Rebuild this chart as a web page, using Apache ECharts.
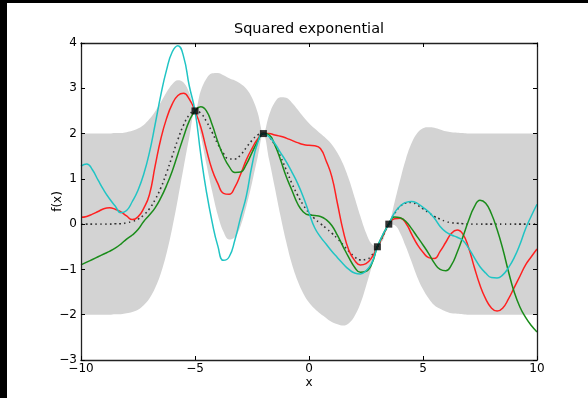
<!DOCTYPE html>
<html>
<head>
<meta charset="utf-8">
<script src="https://cdn.jsdelivr.net/npm/echarts@6/dist/echarts.min.js"></script>
<style>
  html, body { margin: 0; padding: 0; background: #ffffff; }
  #chart { position: absolute; left: 0; top: 0; width: 588px; height: 398px; }
  .edge { position: absolute; background: #000000; }
</style>
</head>
<body>
<div id="chart"></div>
<div class="edge" style="left:0;top:0;width:588px;height:3px;"></div>
<div class="edge" style="left:0;top:0;width:7px;height:398px;"></div>
<script>
// Sample positions along x
const xs = [-10,-9.75,-9.5,-9.25,-9,-8.75,-8.5,-8.25,-8,-7.75,-7.5,-7.25,-7,-6.75,-6.5,-6.25,-6,-5.75,-5.5,-5.25,
  -5,-4.75,-4.5,-4.25,-4,-3.75,-3.5,-3.25,-3,-2.75,-2.5,-2.25,-2,-1.75,-1.5,-1.25,-1,-0.75,-0.5,-0.25,
  0,0.25,0.5,0.75,1,1.25,1.5,1.75,2,2.25,2.5,2.75,3,3.25,3.5,3.75,4,4.25,4.5,4.75,
  5,5.25,5.5,5.75,6,6.25,6.5,6.75,7,7.25,7.5,7.75,8,8.25,8.5,8.75,9,9.25,9.5,9.75,10];

// Posterior mean
const meanF = [0,0,0,0,0,0,0.01,0.01,0.03,0.06,0.11,0.20,0.34,0.54,0.80,1.13,1.50,1.87,2.19,2.41,
  2.50,2.45,2.27,2.03,1.77,1.56,1.44,1.44,1.53,1.69,1.85,1.97,2.00,1.92,1.75,1.49,1.20,0.90,0.64,0.42,
  0.25,0.12,0.01,-0.09,-0.20,-0.32,-0.46,-0.60,-0.72,-0.79,-0.78,-0.69,-0.50,-0.26,0,0.23,0.39,0.47,0.48,0.42,
  0.34,0.25,0.17,0.11,0.06,0.03,0.02,0.01,0,0,0,0,0,0,0,0,0,0,0,0,0];

// Half width of the shaded band (two standard deviations)
const band2s = [2,2,2,2,2,2,2,2,2,2,2,1.99,1.98,1.95,1.89,1.78,1.59,1.31,0.94,0.49,
  0,0.49,0.94,1.30,1.57,1.73,1.78,1.73,1.57,1.30,0.94,0.49,0,0.49,0.94,1.31,1.59,1.78,1.89,1.95,
  1.98,1.99,1.99,1.98,1.96,1.89,1.78,1.59,1.31,0.97,0.59,0.25,0,0.09,0,0.25,0.59,0.97,1.31,1.59,
  1.78,1.89,1.96,1.98,1.99,2,2,2,2,2,2,2,2,2,2,2,2,2,2,2,2];

// Posterior samples
const redSample = [0.15,0.17,0.22,0.28,0.34,0.36,0.33,0.27,0.18,0.10,0.16,0.35,0.65,1.28,1.88,2.33,2.65,2.84,2.89,2.76,
  2.50,2.15,1.65,1.20,0.90,0.68,0.66,0.82,1.10,1.42,1.67,1.88,2.00,2.00,1.97,1.94,1.90,1.85,1.80,1.76,
  1.74,1.73,1.67,1.40,1.05,0.45,-0.15,-0.58,-0.80,-0.90,-0.87,-0.74,-0.50,-0.25,0,0.12,0.13,0.02,-0.22,-0.45,
  -0.62,-0.74,-0.76,-0.60,-0.40,-0.20,-0.13,-0.22,-0.52,-0.95,-1.35,-1.65,-1.85,-1.92,-1.85,-1.65,-1.40,-1.15,-0.90,-0.72,-0.55];

const greenSample = [-0.90,-0.84,-0.78,-0.72,-0.66,-0.60,-0.53,-0.44,-0.33,-0.24,-0.12,0.06,0.20,0.36,0.58,0.85,1.17,1.55,1.93,2.28,
  2.50,2.59,2.50,2.20,1.82,1.50,1.27,1.14,1.15,1.32,1.58,1.83,2.00,1.97,1.75,1.42,1.05,0.75,0.45,0.27,
  0.20,0.19,0.17,0.10,-0.03,-0.25,-0.50,-0.74,-0.95,-1.06,-1.04,-0.88,-0.50,-0.23,0,0.16,0.14,0.06,-0.10,-0.28,
  -0.46,-0.65,-0.86,-1.00,-1.03,-0.90,-0.62,-0.28,0.08,0.38,0.53,0.46,0.23,-0.12,-0.55,-1.05,-1.50,-1.83,-2.06,-2.24,-2.38];

const cyanSample = [1.28,1.33,1.20,0.97,0.75,0.56,0.40,0.25,0.30,0.50,0.75,1.10,1.58,2.20,2.85,3.40,3.80,3.94,3.70,3.05,
  2.50,1.55,0.72,0.05,-0.48,-0.80,-0.72,-0.35,0.15,0.62,1.30,1.80,2.00,1.93,1.78,1.58,1.38,1.15,0.90,0.60,
  0.25,-0.08,-0.28,-0.44,-0.60,-0.74,-0.88,-1.00,-1.08,-1.10,-1.03,-0.86,-0.50,-0.22,0,0.25,0.40,0.48,0.50,0.46,
  0.37,0.27,0.13,-0.05,-0.17,-0.24,-0.29,-0.36,-0.53,-0.74,-0.94,-1.08,-1.18,-1.19,-1.12,-0.96,-0.74,-0.45,-0.10,0.18,0.44];

// Observations
const trainX = [-5, -2, 3, 3.5];
const trainY = [2.5, 2, -0.5, 0];

const titleText = 'Squared exponential';
const xName = 'x';
const yName = 'f(x)';

const FONT = 'DejaVu Sans';

const pairs = (vals) => xs.map((x, i) => [x, vals[i]]);
const upperEdge = xs.map((x, i) => [x, meanF[i] + band2s[i]]);
const lowerEdge = xs.map((x, i) => [x, meanF[i] - band2s[i]]);

// typographic minus sign on negative tick values
const tickText = (v) => String(v).replace('-', '\u2212');

const tickCommon = { show: true, inside: true, length: 4, lineStyle: { color: '#000', width: 1 } };
const lineCommon = { show: true, onZero: false, lineStyle: { color: '#222', width: 1.3 } };

const chart = echarts.init(document.getElementById('chart'), null, { renderer: 'canvas' });

const sampleLine = (name, vals, color) => ({
  name, type: 'line', data: pairs(vals), smooth: 0.5, symbol: 'none',
  lineStyle: { color, width: 1.5 }, z: 4, silent: true
});

chart.setOption({
  animation: false,
  backgroundColor: '#ffffff',
  title: {
    text: titleText, left: 309, top: 22, textAlign: 'center', padding: 0,
    textStyle: { fontFamily: FONT, fontSize: 14.5, fontWeight: 'normal', color: '#000' }
  },
  grid: { left: 81, top: 43, right: 51, bottom: 38, containLabel: false },
  xAxis: [
    {
      type: 'value', min: -10, max: 10, interval: 5, position: 'bottom', z: 8,
      axisLine: lineCommon, axisTick: tickCommon, splitLine: { show: false },
      axisLabel: { fontFamily: FONT, fontSize: 12, color: '#000', margin: 3, formatter: tickText },
      name: xName, nameLocation: 'middle', nameGap: 17, nameMoveOverlap: false,
      nameTextStyle: { fontFamily: FONT, fontSize: 12, color: '#000' }
    },
    {
      type: 'value', min: -10, max: 10, interval: 5, position: 'top', z: 8,
      axisLine: lineCommon, axisTick: tickCommon, splitLine: { show: false },
      axisLabel: { show: false }
    }
  ],
  yAxis: [
    {
      type: 'value', min: -3, max: 4, interval: 1, position: 'left', z: 8,
      axisLine: lineCommon, axisTick: tickCommon, splitLine: { show: false },
      axisLabel: { fontFamily: FONT, fontSize: 12, color: '#000', margin: 4, formatter: tickText },
      name: yName, nameLocation: 'middle', nameGap: 17, nameRotate: 90, nameMoveOverlap: false,
      nameTextStyle: { fontFamily: FONT, fontSize: 12, color: '#000' }
    },
    {
      type: 'value', min: -3, max: 4, interval: 1, position: 'right', z: 8,
      axisLine: lineCommon, axisTick: tickCommon, splitLine: { show: false },
      axisLabel: { show: false }
    }
  ],
  series: [
    {
      // grey fill from the upper edge of the band downwards
      name: 'upper', type: 'line', data: upperEdge, smooth: 0.4, symbol: 'none',
      lineStyle: { width: 0, opacity: 0 },
      areaStyle: { color: '#d3d3d3', opacity: 1, origin: 'start' }, silent: true, z: 1
    },
    {
      // white fill below the lower edge clears the rest
      name: 'lower', type: 'line', data: lowerEdge, smooth: 0.4, symbol: 'none',
      lineStyle: { width: 0, opacity: 0 },
      areaStyle: { color: '#ffffff', opacity: 1, origin: 'start' }, silent: true, z: 1
    },
    {
      name: 'mean', type: 'line', data: pairs(meanF), smooth: 0.5, symbol: 'none',
      lineStyle: { color: '#333', width: 1.6, type: [1.6, 3.2] }, z: 3, silent: true
    },
    sampleLine('sample 1', redSample, '#ff2020'),
    sampleLine('sample 2', greenSample, '#1a8c1a'),
    sampleLine('sample 3', cyanSample, '#20c4c4'),
    {
      name: 'observations', type: 'scatter', data: trainX.map((x, i) => [x, trainY[i]]),
      symbol: 'rect', symbolSize: 7, itemStyle: { color: '#000' }, z: 6, silent: true
    }
  ]
});
</script>
</body>
</html>
